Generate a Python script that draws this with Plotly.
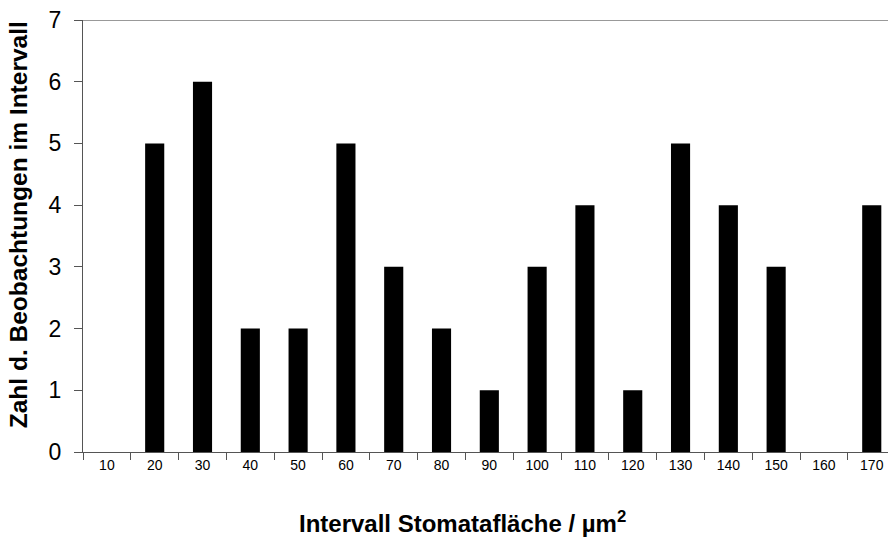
import plotly.graph_objects as go

categories = ["10", "20", "30", "40", "50", "60", "70", "80", "90", "100",
              "110", "120", "130", "140", "150", "160", "170"]
counts = [0, 5, 6, 2, 2, 5, 3, 2, 1, 3, 4, 1, 5, 4, 3, 0, 4]
y_ticks = [0, 1, 2, 3, 4, 5, 6, 7]

x_title = "<b>Intervall Stomatafläche / µm<sup>2</sup></b>"
y_title = "<b>Zahl d. Beobachtungen im Intervall</b>"

fig = go.Figure()
fig.add_trace(go.Bar(
    x=categories, y=counts,
    marker=dict(color="black", line=dict(width=0)),
    width=0.4,
))

fig.update_layout(
    width=888, height=540,
    margin=dict(l=83, r=0, t=20, b=88),
    plot_bgcolor="white", paper_bgcolor="white",
    font=dict(family="Liberation Sans, Arial, sans-serif", color="black"),
    showlegend=False,
    xaxis=dict(
        type="category",
        range=[-0.5, 16.34],
        automargin=False,
        tickson="boundaries",
        ticks="outside", ticklen=7, tickcolor="#555555", tickwidth=1,
        showline=True, linecolor="#555555", linewidth=1,
        showgrid=False,
        tickfont=dict(size=14),
        ticklabeloverflow="allow",
    ),
    yaxis=dict(
        range=[0, 7],
        automargin=False,
        tickvals=y_ticks,
        ticks="outside", ticklen=8, tickcolor="#555555", tickwidth=1,
        ticklabelstandoff=8,
        ticklabeloverflow="allow",
        showline=True, linecolor="#555555", linewidth=1,
        showgrid=False, zeroline=False,
        tickfont=dict(size=23),
    ),
)

fig.add_shape(type="line", xref="x domain", yref="y",
              x0=0, x1=1, y0=7, y1=7,
              line=dict(color="#999999", width=2))

fig.add_annotation(text=x_title, xref="paper", yref="paper",
                   x=0.472, y=-0.162, xanchor="center", yanchor="middle",
                   showarrow=False, font=dict(size=24))
fig.add_annotation(text=y_title, xref="paper", yref="paper",
                   x=-0.0807, y=0.525, xanchor="center", yanchor="middle",
                   textangle=-90, showarrow=False, font=dict(size=24.5))

fig.write_html("out.html",
               config={"displayModeBar": False},
               post_script="document.body.style.margin='0px';")
